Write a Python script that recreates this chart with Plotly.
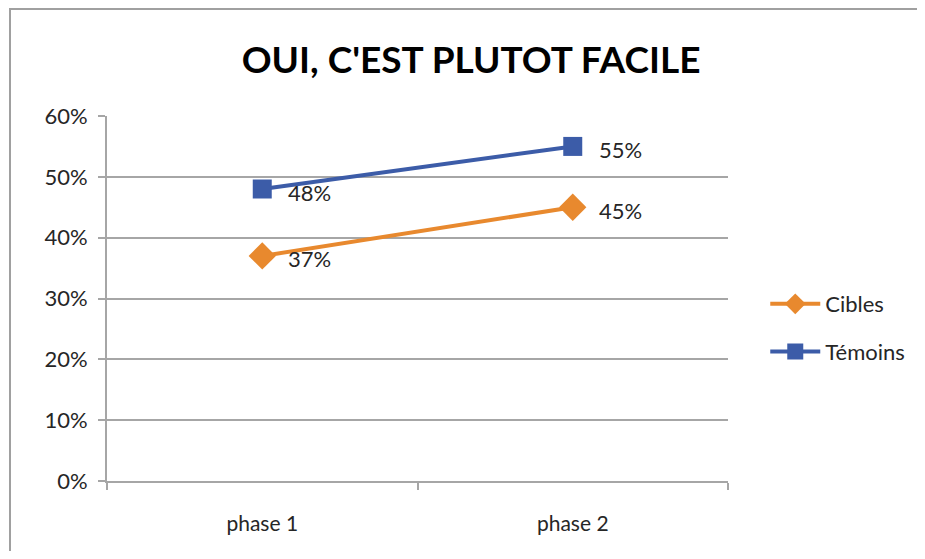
import plotly.graph_objects as go

categories = ["phase 1", "phase 2"]
cibles = [0.37, 0.45]
temoins = [0.48, 0.55]
title_text = "OUI, C'EST PLUTOT FACILE"

ORANGE = "#E8892E"
BLUE = "#3C5CA8"
GRID = "#A6A6A6"
FONT = "Lato"
TXT = "#262626"

# figure geometry (page has an 8px body margin)
W, H = 917, 543
L, T, PW, PH = 99, 108, 621, 365

fig = go.Figure()
fig.add_trace(go.Scatter(
    x=categories, y=cibles, name="Cibles", mode="lines+markers",
    line=dict(color=ORANGE, width=4),
    marker=dict(symbol="diamond", size=21, color=ORANGE),
    legendgroup="a",
))
fig.add_trace(go.Scatter(
    x=categories, y=temoins, name="Témoins", mode="lines+markers",
    line=dict(color=BLUE, width=4),
    marker=dict(symbol="square", size=19, color=BLUE),
    legendgroup="b",
))

for series in (cibles, temoins):
    for c, v in zip(categories, series):
        fig.add_annotation(x=c, y=v, text=f"{round(v*100)}%", showarrow=False,
                           xanchor="left", yanchor="middle", xshift=24, yshift=-3,
                           font=dict(family=FONT, size=22, color=TXT))

fig.update_layout(
    width=W, height=H,
    margin=dict(l=L, r=W - L - PW, t=T, b=H - T - PH),
    paper_bgcolor="white", plot_bgcolor="white",
    title=dict(text=title_text, x=0.505, xanchor="center", y=(H - 52) / H, yanchor="middle",
               font=dict(family=FONT, size=37, color="#000000", weight="bold")),
    font=dict(family=FONT, color=TXT),
    showlegend=True,
    legend=dict(x=1.060, y=(481 - 328) / 365, xanchor="left", yanchor="middle",
                font=dict(family=FONT, size=22, color=TXT),
                itemwidth=50, tracegroupgap=16, traceorder="grouped",
                bgcolor="rgba(0,0,0,0)"),
    shapes=[dict(type="rect", xref="paper", yref="paper",
                 x0=(2 - L) / PW, x1=1 + (W - L - PW + 20) / PW,
                 y0=-(H - T - PH + 20) / PH, y1=(T + PH - 1) / PH,
                 line=dict(color="#A0A0A0", width=2), layer="below")],
)
fig.update_xaxes(
    type="category", range=[-0.5, 1.5], showgrid=False,
    showline=True, linecolor=GRID, linewidth=2,
    ticks="outside", tickson="boundaries", ticklen=7, tickwidth=2, tickcolor=GRID,
    tickfont=dict(family=FONT, size=21, color=TXT), ticklabelstandoff=23,
)
fig.update_yaxes(
    range=[0, 0.6], dtick=0.1, tickformat=".0%",
    showgrid=True, gridcolor=GRID, gridwidth=2,
    showline=True, linecolor=GRID, linewidth=2,
    ticks="outside", ticklen=7, tickwidth=2, tickcolor=GRID,
    tickfont=dict(family=FONT, size=22, color=TXT), ticklabelstandoff=6,
    zeroline=False,
)

fig.write_html("out.html")
